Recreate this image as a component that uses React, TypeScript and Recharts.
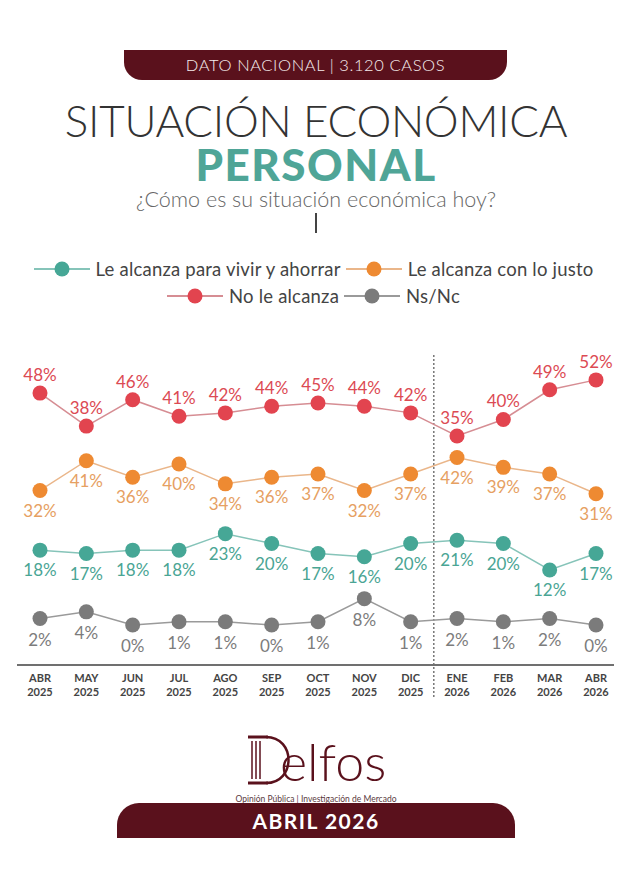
import { LineChart, Line, XAxis, YAxis, LabelList, ReferenceLine, Legend } from "recharts";

const meses = ["ABR", "MAY", "JUN", "JUL", "AGO", "SEP", "OCT", "NOV", "DIC", "ENE", "FEB", "MAR", "ABR"];
const anios = ["2025", "2025", "2025", "2025", "2025", "2025", "2025", "2025", "2025", "2026", "2026", "2026", "2026"];

const ahorrar = [18, 17, 18, 18, 23, 20, 17, 16, 20, 21, 20, 12, 17];
const justo = [32, 41, 36, 40, 34, 36, 37, 32, 37, 42, 39, 37, 31];
const noAlcanza = [48, 38, 46, 41, 42, 44, 45, 44, 42, 35, 40, 49, 52];
const nsnc = [2, 4, 0, 1, 1, 0, 1, 8, 1, 2, 1, 2, 0];

// divider between 2025 and 2026
const corte = anios.indexOf("2026") - 0.5;

const FONT = "Lato, 'Open Sans', sans-serif";

const series = [
  { key: "ahorrar", name: "Le alcanza para vivir y ahorrar", dot: "#46a796", line: "#86c4b9", label: "#4aa594", pos: "bottom", off: 14, domain: [-16.8, 83.2] },
  { key: "justo", name: "Le alcanza con lo justo", dot: "#ee8a32", line: "#eab68a", label: "#e6a062", pos: "bottom", off: 14, domain: [-20.9, 79.1] },
  { key: "noAlcanza", name: "No le alcanza", dot: "#e2444f", line: "#d68d93", label: "#dc4a53", pos: "top", off: 12, domain: [-34.4, 65.6] },
  { key: "nsnc", name: "Ns/Nc", dot: "#7b7b7b", line: "#9a9a9a", label: "#7c7c7c", pos: "bottom", off: 15, domain: [-12.1, 87.9] },
];

const data = meses.map((m, i) => ({
  i,
  mes: m,
  anio: anios[i],
  ahorrar: ahorrar[i],
  justo: justo[i],
  noAlcanza: noAlcanza[i],
  nsnc: nsnc[i],
}));

const MesTick = (props: any) => {
  const { x, y, payload } = props;
  const d = data[payload.value];
  return (
    <text x={x} y={y} textAnchor="middle" fill="#444" fontSize={11} fontWeight={700} fontFamily={FONT}>
      <tspan x={x} dy={15}>{d.mes}</tspan>
      <tspan x={x} dy={14}>{d.anio}</tspan>
    </text>
  );
};

const LegendItem = ({ s }: any) => (
  <div style={{ display: "flex", alignItems: "center", marginRight: 5 }}>
    <svg width={56} height={16}>
      <line x1={0} x2={56} y1={8} y2={8} stroke={s.line} strokeWidth={2} />
      <circle cx={28} cy={8} r={7.5} fill={s.dot} />
    </svg>
    <span style={{ marginLeft: 6, fontSize: 18.5, letterSpacing: 0.2, color: "#444", fontFamily: FONT }}>{s.name}</span>
  </div>
);

const LegendBox = () => (
  <div style={{ width: 632 }}>
    <div style={{ display: "flex", justifyContent: "center", height: 27, alignItems: "center" }}>
      <LegendItem s={series[0]} />
      <LegendItem s={series[1]} />
    </div>
    <div style={{ display: "flex", justifyContent: "center", height: 27, alignItems: "center" }}>
      <LegendItem s={series[2]} />
      <LegendItem s={series[3]} />
    </div>
  </div>
);

const Divisor = (props: any) => {
  const { x1, x2, y1, y2 } = props;
  return <line x1={x1} x2={x2} y1={Math.min(y1, y2) + 20} y2={Math.max(y1, y2) + 32} stroke="#555" strokeWidth={1.2} strokeDasharray="2 2" />;
};

export default function App() {
  return (
    <div style={{ position: "absolute", left: 0, top: 0, width: 632, height: 893, background: "#fff", fontFamily: FONT, overflow: "hidden" }}>
      {/* header band */}
      <div style={{ position: "absolute", left: 124, top: 50, width: 383, height: 30, background: "#5a111c", borderRadius: "0 0 18px 18px", color: "#f6eded", fontSize: 16.5, letterSpacing: 0.6, textAlign: "center", lineHeight: "30px", fontWeight: 300 }}>
        DATO NACIONAL | 3.120 CASOS
      </div>
      <div style={{ position: "absolute", left: 0, top: 97, width: 632, textAlign: "center", fontSize: 44, fontWeight: 300, color: "#333", lineHeight: "46px", letterSpacing: -0.3 }}>
        SITUACIÓN ECONÓMICA
      </div>
      <div style={{ position: "absolute", left: 0, top: 144, width: 632, textAlign: "center", fontSize: 44, fontWeight: 900, color: "#4fa597", lineHeight: "40px", letterSpacing: 1.5 }}>
        PERSONAL
      </div>
      <div style={{ position: "absolute", left: 0, top: 187, width: 632, textAlign: "center", fontSize: 21.5, fontWeight: 300, color: "#666", lineHeight: "24px" }}>
        ¿Cómo es su situación económica hoy?
      </div>
      <div style={{ position: "absolute", left: 315, top: 213, width: 2, height: 20, background: "#444" }} />

      <LineChart style={{ position: "absolute", left: 0, top: 0 }} width={632} height={710} data={data} margin={{ top: 335, right: 18, bottom: 0, left: 17 }}>
        <XAxis
          dataKey="i"
          type="number"
          domain={[0, meses.length - 1]}
          ticks={data.map((d) => d.i)}
          interval={0}
          padding={{ left: 23, right: 18 }}
          axisLine={{ stroke: "#707070", strokeWidth: 2 }}
          tickLine={false}
          tickSize={0}
          height={45}
          tick={<MesTick />}
        />
        {series.map((s) => (
          <YAxis key={s.key} yAxisId={s.key} hide domain={s.domain} />
        ))}
        <Legend layout="vertical" verticalAlign="middle" align="center" content={<LegendBox />} wrapperStyle={{ top: 255, left: 0, width: 632 }} />
        <ReferenceLine x={corte} yAxisId="noAlcanza" shape={<Divisor />} />
        {series.map((s) => (
          <Line
            key={s.key}
            yAxisId={s.key}
            dataKey={s.key}
            name={s.name}
            stroke={s.line}
            strokeWidth={1.5}
            dot={{ r: 7.5, fill: s.dot, stroke: s.dot, strokeWidth: 0 }}
            activeDot={false}
            isAnimationActive={false}
          >
            <LabelList dataKey={s.key} position={s.pos as any} offset={s.off} formatter={(v: any) => `${v}%`} fill={s.label} fontSize={17} fontFamily={FONT} />
          </Line>
        ))}
      </LineChart>

      {/* Delfos logo */}
      <svg style={{ position: "absolute", left: 0, top: 720 }} width={632} height={90}>
        <g stroke="#5a111c" fill="none">
          <line x1={248} x2={268} y1={17} y2={17} strokeWidth={3} />
          <line x1={248} x2={268} y1={63} y2={63} strokeWidth={3} />
          <line x1={252} x2={252} y1={21} y2={59} strokeWidth={1.5} />
          <line x1={256} x2={256} y1={21} y2={59} strokeWidth={1.5} />
          <line x1={260} x2={260} y1={21} y2={59} strokeWidth={1.5} />
          <path d="M266 17 C 296 17, 296 63, 266 63" strokeWidth={2.5} />
        </g>
        <text x={280} y={61} fontSize={52} fontWeight={300} fill="#5a111c" fontFamily={FONT} letterSpacing={0}>elfos</text>
        <text x={316} y={82} fontSize={8.5} fill="#5a3a3e" textAnchor="middle" fontFamily={FONT}>Opinión Pública | Investigación de Mercado</text>
      </svg>

      {/* footer band */}
      <div style={{ position: "absolute", left: 117, top: 803, width: 398, height: 35, background: "#5a111c", borderRadius: "22px 22px 0 0", color: "#fff", fontSize: 21, fontWeight: 700, textAlign: "center", lineHeight: "36px", letterSpacing: 1.5 }}>
        ABRIL 2026
      </div>
    </div>
  );
}
